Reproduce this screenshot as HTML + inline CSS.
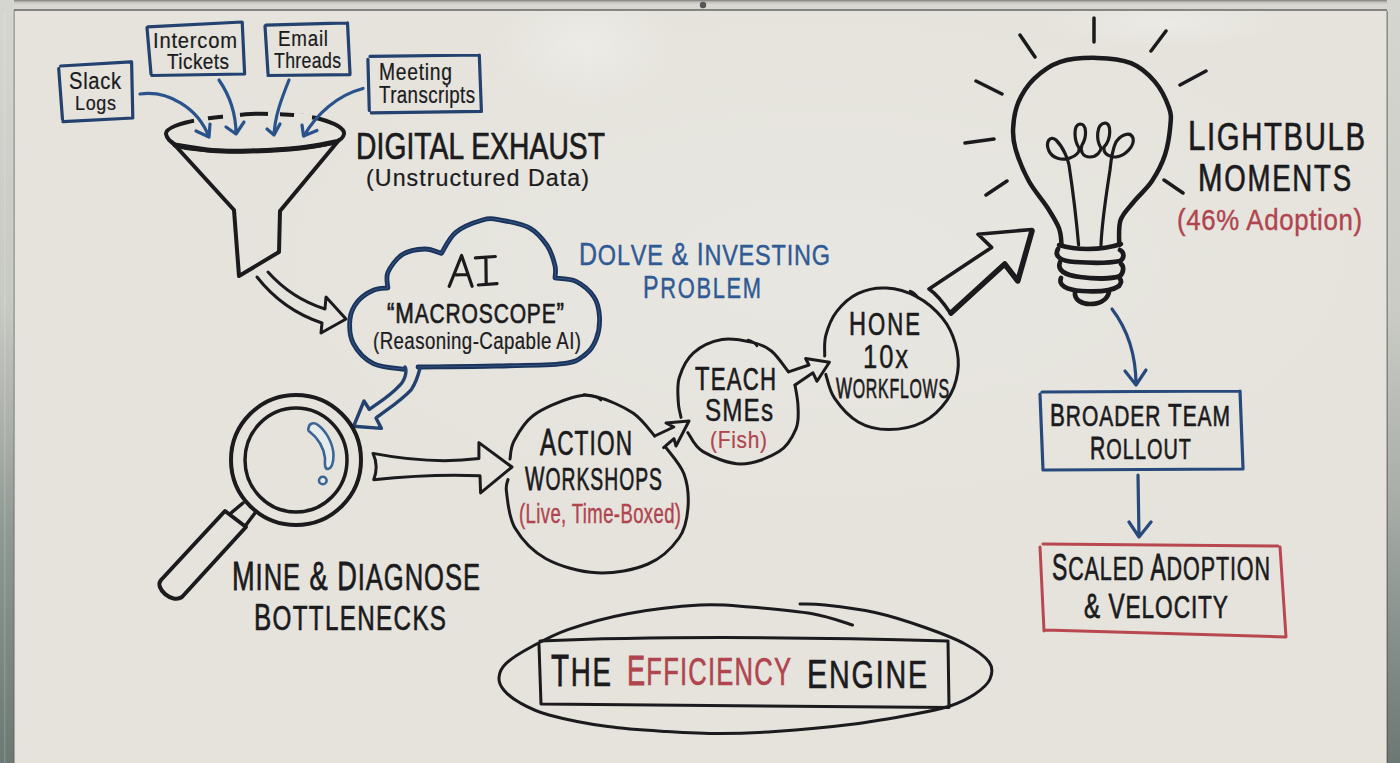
<!DOCTYPE html>
<html><head><meta charset="utf-8"><style>
html,body{margin:0;padding:0;width:1400px;height:763px;overflow:hidden;background:#dcdad3;}
svg{display:block;}
text{font-family:"Liberation Sans",sans-serif;}
</style></head><body>
<svg width="1400" height="763" viewBox="0 0 1400 763">
<defs>
<radialGradient id="hl1" cx="0.5" cy="0.5" r="0.5">
<stop offset="0" stop-color="#f0eee9" stop-opacity="0.95"/>
<stop offset="1" stop-color="#f0eee9" stop-opacity="0"/>
</radialGradient>
<radialGradient id="hl2" cx="0.5" cy="0.5" r="0.5">
<stop offset="0" stop-color="#ebe9e4" stop-opacity="0.9"/>
<stop offset="1" stop-color="#ebe9e4" stop-opacity="0"/>
</radialGradient>
<linearGradient id="lf" x1="0" y1="0" x2="0" y2="763" gradientUnits="userSpaceOnUse">
<stop offset="0" stop-color="#d6d6d1"/>
<stop offset="0.4" stop-color="#c7c9c3"/>
<stop offset="0.55" stop-color="#aeb2ac"/>
<stop offset="0.7" stop-color="#8f9893"/>
<stop offset="1" stop-color="#6c7873"/>
</linearGradient>
<linearGradient id="rf" x1="0" y1="0" x2="0" y2="763" gradientUnits="userSpaceOnUse">
<stop offset="0" stop-color="#d6d6d1"/>
<stop offset="0.4" stop-color="#cbccc6"/>
<stop offset="0.65" stop-color="#a9aea8"/>
<stop offset="0.85" stop-color="#838d89"/>
<stop offset="1" stop-color="#6c7873"/>
</linearGradient>
</defs>
<rect width="1400" height="763" fill="#e5e3dc"/>
<ellipse cx="820" cy="260" rx="620" ry="280" fill="url(#hl2)" opacity="0.6"/>
<ellipse cx="585" cy="45" rx="90" ry="60" fill="url(#hl1)" opacity="0.8"/>
<ellipse cx="1165" cy="22" rx="120" ry="26" fill="url(#hl1)" opacity="0.7"/>
<rect x="0" y="0" width="1400" height="10.5" fill="#d8d7d2"/>
<rect x="0" y="1.5" width="1400" height="2" fill="#b9b9b3" opacity="0.6"/>
<rect x="0" y="0" width="1400" height="1.5" fill="#8d8d89"/>
<rect x="0" y="9.3" width="1400" height="1.4" fill="#4a4a47" opacity="0.85"/>
<rect x="0" y="0" width="14" height="763" fill="url(#lf)"/>
<rect x="4" y="11" width="1.5" height="752" fill="#ffffff" opacity="0.15"/>
<rect x="13.6" y="10" width="1.1" height="753" fill="#4d524e" opacity="0.6"/>
<rect x="1387" y="0" width="13" height="763" fill="url(#rf)"/>
<rect x="1386.5" y="11" width="1.3" height="752" fill="#3f4441" opacity="0.6"/>
<circle cx="703" cy="5" r="3.2" fill="#555"/>

<g fill="none" stroke-linecap="round" stroke-linejoin="round">
<g stroke="#23426f" stroke-width="3.2">
<path d="M60.6,66 L130.5,61.8 M131.6,61.8 L132.8,117.5 M132.8,118 L63,121.6 M58.7,68.7 L62.5,119.5"/>
<path d="M147.9,26.8 L242.2,22 M242.2,22 L244.6,73.5 M244.6,74 L151.8,75.5 M147,27.6 L151,74"/>
<path d="M265.8,25.2 L347.5,22.9 M347.5,22.9 L350,73.5 M350,74.6 L268,75.5 M265,26 L268,73.5"/>
<path d="M370,56.4 L479.3,55 M479.3,55 L481.4,111.4 M481.4,111.4 L371.4,112.9 M367.9,59.3 L369.3,110.5"/>
</g>
<g stroke="#1b1b1d" stroke-width="4">
<path d="M166.0,134.0 C165.5,130.7 169.3,128.4 175.0,126.0 C180.7,123.6 191.0,121.2 200.0,119.5 C209.0,117.8 219.8,117.0 229.0,116.0 C238.2,115.0 246.5,114.0 255.0,113.7 C263.5,113.4 272.5,114.0 280.0,114.3 C287.5,114.6 293.3,114.7 300.0,115.5 C306.7,116.3 313.7,117.2 320.0,119.0 C326.3,120.8 334.0,123.5 338.0,126.0 C342.0,128.5 344.5,131.3 344.0,134.0 C343.5,136.7 342.3,139.7 335.0,142.0 C327.7,144.3 314.2,146.5 300.0,148.0 C285.8,149.5 264.6,150.6 250.0,151.0 C235.4,151.4 224.5,151.3 212.5,150.5 C200.5,149.7 185.8,148.8 178.0,146.0 C170.2,143.2 166.5,137.3 166.0,134.0 Z" stroke-width="4"/>
<path d="M175.0,145.0 C181.2,145.9 200.0,149.5 212.5,150.5 C225.0,151.5 235.4,151.4 250.0,151.0 C264.6,150.6 285.8,149.5 300.0,148.0 C314.2,146.5 329.2,143.0 335.0,142.0" stroke-width="5"/>
<path d="M172,142 L234,210 L239,276 L279,252 L280,211 L339,140"/>
</g>
<g stroke="#1b1b1d" stroke-width="3">
<path d="M257,277 C275,300 298,315 322,323 L321,333 L346,319 L326,297 L325,309 C303,302 284,290 268,272"/>
</g>
<path d="M194,120.5 L208,118.5 M223,116.8 L240,115.5 M268,114.6 L280,114.5 M294,115.5 L312,117.5" stroke="#e5e3dc" stroke-width="6" stroke-linecap="butt"/>
<g stroke="#2a538c" stroke-width="3.2">
<path d="M140,94 C168,90 198,108 209,137 M196,131 L209,137 L210,124"/>
<path d="M219,80 C230,96 236,115 236,134 M226,127 L236,134 L244,122"/>
<path d="M289,80 C281,100 275,116 274,135 M267,129 L274,135 L280,124"/>
<path d="M363,88.5 C338,95 316,114 304,136 M302,125 L303.5,136 L317,130.5"/>
</g>
<path d="M418.0,367.0 C431.0,366.8 471.9,366.6 496.0,366.0 C520.1,365.4 548.0,365.6 562.8,363.7 C577.6,361.8 579.4,358.9 585.0,354.8 C590.6,350.7 593.8,345.5 596.2,339.2 C598.6,332.9 599.9,324.0 599.5,317.0 C599.1,310.0 597.9,302.9 594.0,297.0 C590.1,291.1 582.5,284.5 576.0,281.3 C569.5,278.1 558.5,278.6 555.0,278.0 L555.0,278.0 C555.0,275.9 556.3,271.1 555.0,265.7 C553.7,260.3 551.5,251.9 547.2,245.6 C542.9,239.3 537.2,232.1 529.4,227.8 C521.6,223.5 508.2,221.3 500.4,220.0 C492.6,218.7 490.0,217.9 482.6,220.0 C475.2,222.1 462.7,226.7 455.8,232.3 C448.9,237.9 443.8,249.9 441.4,253.4 L441.4,253.4 C438.6,252.7 431.2,248.8 424.7,249.0 C418.2,249.2 408.5,250.7 402.4,254.6 C396.3,258.5 390.3,266.8 387.9,272.4 C385.5,278.0 387.9,285.4 387.9,288.0 L387.9,288.0 C385.5,288.4 378.4,288.0 373.4,290.2 C368.4,292.4 361.7,296.5 357.8,301.3 C353.9,306.1 350.7,311.9 350.0,319.0 C349.3,326.1 349.5,336.2 353.4,343.7 C357.3,351.1 364.9,359.4 373.4,363.7 C381.9,368.0 399.4,368.4 404.6,369.3" stroke="#19335c" stroke-width="4.8"/>
<path d="M418.0,367.0 C431.0,366.8 471.9,366.6 496.0,366.0 C520.1,365.4 548.0,365.6 562.8,363.7 C577.6,361.8 579.4,358.9 585.0,354.8 C590.6,350.7 593.8,345.5 596.2,339.2 C598.6,332.9 599.9,324.0 599.5,317.0 C599.1,310.0 597.9,302.9 594.0,297.0 C590.1,291.1 582.5,284.5 576.0,281.3 C569.5,278.1 558.5,278.6 555.0,278.0 L555.0,278.0 C555.0,275.9 556.3,271.1 555.0,265.7 C553.7,260.3 551.5,251.9 547.2,245.6 C542.9,239.3 537.2,232.1 529.4,227.8 C521.6,223.5 508.2,221.3 500.4,220.0 C492.6,218.7 490.0,217.9 482.6,220.0 C475.2,222.1 462.7,226.7 455.8,232.3 C448.9,237.9 443.8,249.9 441.4,253.4 L441.4,253.4 C438.6,252.7 431.2,248.8 424.7,249.0 C418.2,249.2 408.5,250.7 402.4,254.6 C396.3,258.5 390.3,266.8 387.9,272.4 C385.5,278.0 387.9,285.4 387.9,288.0 L387.9,288.0 C385.5,288.4 378.4,288.0 373.4,290.2 C368.4,292.4 361.7,296.5 357.8,301.3 C353.9,306.1 350.7,311.9 350.0,319.0 C349.3,326.1 349.5,336.2 353.4,343.7 C357.3,351.1 364.9,359.4 373.4,363.7 C381.9,368.0 399.4,368.4 404.6,369.3" stroke="#6a90c0" stroke-width="1.1" opacity="0.35"/>
<g stroke="#23426f" stroke-width="3.4">
<path d="M405,367 C407,370 406,380 398.7,386.4 C390,396 378,403 369.4,409.5 L364,401 L353.6,426.3 L381.4,428.4 L376,418 C388,409 402,400 411.3,389.6 C417,381 419,372 420,368"/>
</g>
<path d="M449.2,286.3 L461.6,255.5 L472.1,286.3 M455.7,274.8 L466.9,274.5 M475.4,257.8 L495.4,256.5 M485.9,257.5 L486.2,284.3 M478.3,285 L497,283.7" stroke="#1b1b1d" stroke-width="3.2"/>
<g stroke="#1b1b1d" stroke-width="4">
<ellipse cx="296" cy="460" rx="65" ry="65"/>
<ellipse cx="296" cy="460" rx="51" ry="52" stroke-width="3.5"/>
<path d="M243,503 L231,513 M255,513 L246,525" stroke-width="3.5"/>
<path d="M225,511 L161,580 C154,588 172,604 182,597 L246,527 Z"/>
</g>
<g stroke="#3d6496" stroke-width="2.6">
<path d="M308.6,428 C309,423 314,422 318,425 C326,431 333,443 333.5,455 C333.5,462 332,468 328,469 C324,469 325,463 325,458 C324,448 318,438 310,432 C308,431 308,429 308.6,428 Z" fill="#e6ebec"/>
<circle cx="322.8" cy="480.5" r="3.8" fill="#e6ebec"/>
</g>
<g stroke="#1b1b1d" stroke-width="3">
<path d="M373,453.4 Q379,466 373.7,479.7 Q430.4,473.7 480,475.7 L480.6,492.9 L512,467 L478.9,442.6 L478.9,458.6 Q431.3,464.6 373,453.4 Z"/>
</g>
<g stroke="#1b1b1d" stroke-width="3">
<path d="M666.0,447.6 C669.0,452.0 680.3,464.0 684.0,474.0 C687.7,484.0 688.8,496.9 688.0,507.6 C687.2,518.3 685.7,528.6 679.0,538.0 C672.3,547.4 661.7,558.2 648.0,564.0 C634.3,569.8 614.0,573.7 597.0,572.8 C580.0,571.9 559.7,566.2 546.0,558.7 C532.3,551.2 521.6,539.1 515.0,528.0 C508.4,516.9 507.7,500.1 506.5,492.0 C505.3,483.9 507.8,481.6 508.0,479.5"/>
<path d="M510.0,459.0 C510.7,456.0 510.2,448.2 514.0,441.0 C517.8,433.8 523.4,422.9 533.0,415.7 C542.6,408.5 560.9,400.9 571.6,397.8 C582.3,394.7 586.8,394.5 597.0,397.0 C607.2,399.5 623.4,406.5 633.0,413.0 C642.6,419.5 651.1,432.2 654.7,436.0"/>
<path d="M687.8,432.6 C690.3,435.8 694.1,446.4 703.0,451.6 C711.9,456.8 728.3,464.0 741.0,464.0 C753.7,464.0 769.8,457.5 779.0,451.6 C788.2,445.7 792.8,436.4 796.0,428.8 C799.2,421.2 798.2,413.3 798.0,406.0 C797.8,398.7 795.5,388.5 795.0,385.0"/>
<path d="M788.5,371.8 C785.6,368.3 777.4,355.9 771.4,351.0 C765.4,346.1 760.6,344.3 752.4,342.4 C744.2,340.5 731.8,337.8 722.0,339.5 C712.2,341.2 700.6,346.5 693.5,352.8 C686.4,359.1 681.8,369.3 679.3,377.5 C676.8,385.7 678.0,395.4 678.3,402.0 C678.6,408.6 680.5,414.8 681.0,417.4"/>
<path d="M825.8,374.4 C827.2,378.4 829.1,390.3 834.5,398.2 C839.9,406.1 849.2,416.8 858.2,422.0 C867.2,427.2 877.7,429.6 888.5,429.6 C899.3,429.6 913.3,426.9 923.0,422.0 C932.7,417.1 941.1,408.7 946.9,400.4 C952.7,392.1 956.3,381.7 957.7,372.3 C959.1,362.9 958.0,353.2 955.5,344.2 C953.0,335.2 949.0,326.1 942.5,318.2 C936.0,310.3 926.0,301.6 916.6,296.6 C907.2,291.6 896.0,288.5 886.3,288.0 C876.6,287.5 866.5,289.4 858.2,293.4 C849.9,297.3 842.0,304.7 836.6,311.7 C831.2,318.7 827.8,328.1 825.8,335.5 C823.8,342.9 824.9,352.6 824.7,356.0"/>
<path d="M584,394.5 C592,395 598,397 601,400" stroke-width="2.6"/>
<path d="M748,340 C752,341 755,343 757,346" stroke-width="2.4"/>
<path d="M910,291 C913,292 916,294 918,298" stroke-width="2.4"/>
<path d="M654.7,436 L673.8,427 L666,423 L689,421 L676,446 L674,438.7 L663.6,447.6"/>
<path d="M788.5,371.8 L809,365 L805.6,358.5 L829.4,362.3 L817,381.3 L813,372.8 L795,385"/>
</g>
<g stroke="#1b1b1d" stroke-width="3.6">
<path d="M929,289 L991.6,247.4 L978,234.3 L1032,229.5 L1017.8,281 L1004.7,264 L951,314 C945,305 938,295 929,289 Z"/>
<path d="M1032,231 L1017.8,281 L1004.7,264 L951,313" stroke-width="5.5"/>
</g>
<g stroke="#1b1b1d" stroke-width="4.5">
<path d="M1061.6,245.2 C1061.2,242.4 1061.4,234.5 1059.0,228.2 C1056.6,221.9 1052.2,215.1 1047.2,207.2 C1042.2,199.3 1034.0,190.6 1028.8,181.0 C1023.5,171.4 1018.3,158.3 1015.7,149.6 C1013.1,140.9 1012.7,136.5 1013.1,128.6 C1013.5,120.7 1014.8,110.7 1018.3,102.4 C1021.8,94.1 1027.0,85.6 1034.0,78.8 C1041.0,72.0 1049.8,65.3 1060.3,61.8 C1070.8,58.3 1085.2,57.7 1097.0,57.9 C1108.8,58.1 1121.4,59.2 1131.0,63.1 C1140.6,67.0 1148.3,74.0 1154.6,81.4 C1160.9,88.8 1166.4,100.3 1169.0,107.7 C1171.6,115.1 1171.0,118.2 1170.3,126.0 C1169.6,133.8 1168.0,145.6 1165.0,154.8 C1162.0,164.0 1157.2,173.1 1152.0,181.0 C1146.8,188.9 1138.8,195.4 1133.6,202.0 C1128.3,208.6 1122.9,213.1 1120.5,220.3 C1118.1,227.5 1119.4,241.0 1119.2,245.2"/>
<path d="M1020,35 L1035,57 M1094,18 L1094,42 M1166,31 L1151,51 M976,81 L1002,94 M1206,71 L1180,85 M965,143 L994,139 M986,195 L1007,181 M1164,180 L1183,193" stroke-width="3.5"/>
<path d="M1059,245 C1075,250 1100,251 1121,244"/>
<path d="M1058,249 C1054,256 1060,261 1075,262 C1090,263 1110,263 1120,261 C1125,258 1124,252 1120,250" stroke-width="4.7"/>
<path d="M1060,262 C1057,270 1064,275 1080,277 C1095,279 1112,279 1120,276 C1124,272 1124,266 1121,264" stroke-width="4.7"/>
<path d="M1061,278 C1058,285 1066,290 1082,291 C1097,292 1112,291 1119,286 C1122,282 1121,280 1120,279" stroke-width="4.7"/>
<path d="M1075,292 C1074,300 1082,304 1090,304 C1098,304 1107,301 1109,292" stroke-width="4.7"/>
</g>
<g stroke="#1b1b1d" stroke-width="3.2">
<path d="M1078.6,245 C1076,215 1072,185 1069,165 C1068,160 1064,148 1056,140 C1050,135 1045,142 1049,151 C1052,158 1062,161 1070,158 C1076,156 1080,152 1079,148 C1074,140 1073,125 1080,124 C1087,124 1087,137 1082,145 C1080,150 1082,157 1090,157 C1097,157 1101,151 1101,148 C1096,140 1096,124 1105,123 C1112,123 1111,140 1104,147 C1103,153 1108,157 1116,157 C1125,156 1135,146 1133,138 C1130,130 1120,136 1116,142 C1112,150 1111,160 1110,170 C1107,190 1102,220 1101,245"/>
</g>
<g stroke="#27497c" stroke-width="3.2">
<path d="M1112,309 C1128,330 1136,355 1136,385 M1125,371 L1136,385 L1146,370"/>
<path d="M1042,392 L1240,391 M1240,391 L1243,468 M1243,469 L1045,470 M1040,394 L1043,470"/>
<path d="M1138,475 L1139,537 M1129,522 L1139,537 L1151,522"/>
</g>
<g stroke="#b9474f" stroke-width="3">
<path d="M1043,544 L1278,546 M1280,547 L1286,637 M1285,637 L1045,630 M1040,547 L1044,631"/>
</g>
<g stroke="#1b1b1d" stroke-width="3">
<path d="M852.5,625.0 C845.8,623.1 829.6,616.8 812.5,613.8 C795.4,610.8 768.8,608.5 750.0,607.0 C731.2,605.5 720.4,603.9 700.0,605.0 C679.6,606.1 649.4,609.6 627.5,613.7 C605.6,617.8 585.0,623.7 568.6,629.4 C552.2,635.1 539.8,642.3 529.3,648.0 C518.8,653.7 510.8,658.9 505.7,663.8 C500.6,668.7 499.3,673.1 499.0,677.5 C498.7,681.9 500.4,685.8 503.8,690.0 C507.2,694.2 512.0,698.3 519.5,702.5 C527.0,706.7 534.3,711.0 549.0,715.0 C563.7,719.0 588.3,723.9 607.9,726.6 C627.5,729.4 648.1,730.4 666.8,731.5 C685.5,732.6 702.0,733.5 720.0,733.5 C738.0,733.5 753.3,733.0 775.0,731.5 C796.7,730.0 826.7,727.4 850.0,724.5 C873.3,721.6 898.3,717.1 915.0,714.0 C931.7,710.9 940.0,709.3 950.0,706.0 C960.0,702.7 968.3,698.5 975.0,694.0 C981.7,689.5 987.7,684.3 990.0,679.0 C992.3,673.7 993.2,667.8 989.0,662.0 C984.8,656.2 975.7,649.8 965.0,644.0 C954.3,638.2 940.0,632.8 925.0,627.5 C910.0,622.2 891.7,616.2 875.0,612.5 C858.3,608.8 837.5,606.4 825.0,605.0 C812.5,603.6 804.2,604.2 800.0,604.0"/>
<path d="M540,641 Q700,634 948,641 M948,641 L949,707 M949,707.5 L541,704 M539,645 L541,704"/>
</g>
</g>
<g>
<text id="t0" transform="translate(69.00,89.00) scale(0.8413,1)" font-size="23.98" fill="#1b1b1d" stroke="#1b1b1d" stroke-width="0.22" vector-effect="non-scaling-stroke" textLength="61.83" lengthAdjust="spacing">Slack</text>
<text id="t1" transform="translate(75.00,110.00) scale(0.8818,1)" font-size="20.35" fill="#1b1b1d" stroke="#1b1b1d" stroke-width="0.22" vector-effect="non-scaling-stroke" textLength="46.52" lengthAdjust="spacing">Logs</text>
<text id="t2" transform="translate(153.00,47.50) scale(0.9265,1)" font-size="21.80" fill="#1b1b1d" stroke="#1b1b1d" stroke-width="0.22" vector-effect="non-scaling-stroke" textLength="90.76" lengthAdjust="spacing">Intercom</text>
<text id="t3" transform="translate(167.00,69.00) scale(0.8747,1)" font-size="21.80" fill="#1b1b1d" stroke="#1b1b1d" stroke-width="0.22" vector-effect="non-scaling-stroke" textLength="70.89" lengthAdjust="spacing">Tickets</text>
<text id="t4" transform="translate(278.00,46.00) scale(0.8632,1)" font-size="21.80" fill="#1b1b1d" stroke="#1b1b1d" stroke-width="0.22" vector-effect="non-scaling-stroke" textLength="57.99" lengthAdjust="spacing">Email</text>
<text id="t5" transform="translate(274.00,67.50) scale(0.8124,1)" font-size="21.80" fill="#1b1b1d" stroke="#1b1b1d" stroke-width="0.22" vector-effect="non-scaling-stroke" textLength="82.47" lengthAdjust="spacing">Threads</text>
<text id="t6" transform="translate(379.00,80.00) scale(0.8308,1)" font-size="23.26" fill="#1b1b1d" stroke="#1b1b1d" stroke-width="0.22" vector-effect="non-scaling-stroke" textLength="87.94" lengthAdjust="spacing">Meeting</text>
<text id="t7" transform="translate(379.00,102.50) scale(0.7823,1)" font-size="23.98" fill="#1b1b1d" stroke="#1b1b1d" stroke-width="0.22" vector-effect="non-scaling-stroke" textLength="122.74" lengthAdjust="spacing">Transcripts</text>
<text id="t8" transform="translate(356.00,159.00) scale(0.7766,1)" font-size="36.34" fill="#1b1b1d" stroke="#1b1b1d" stroke-width="0.65" vector-effect="non-scaling-stroke" textLength="320.65" lengthAdjust="spacing">DIGITAL EXHAUST</text>
<text id="t9" transform="translate(366.00,186.00) scale(1.0000,1)" font-size="23.26" fill="#1b1b1d" stroke="#1b1b1d" stroke-width="0.22" vector-effect="non-scaling-stroke" textLength="223.04" lengthAdjust="spacing">(Unstructured Data)</text>
<text id="t11" transform="translate(387.00,322.50) scale(0.7687,1)" font-size="29.07" fill="#1b1b1d" stroke="#1b1b1d" stroke-width="0.65" vector-effect="non-scaling-stroke" textLength="230.26" lengthAdjust="spacing">“M<tspan font-size="27.33">A</tspan><tspan font-size="27.33">C</tspan><tspan font-size="27.33">R</tspan><tspan font-size="27.33">O</tspan><tspan font-size="27.33">S</tspan><tspan font-size="27.33">C</tspan><tspan font-size="27.33">O</tspan><tspan font-size="27.33">P</tspan><tspan font-size="27.33">E</tspan>”</text>
<text id="t12" transform="translate(373.00,349.00) scale(0.8035,1)" font-size="23.26" fill="#1b1b1d" stroke="#1b1b1d" stroke-width="0.22" vector-effect="non-scaling-stroke" textLength="258.91" lengthAdjust="spacing">(Reasoning-Capable AI)</text>
<text id="t13" transform="translate(579.00,265.00) scale(0.7806,1)" font-size="31.98" fill="#2f5a94" stroke="#2f5a94" stroke-width="0.45" vector-effect="non-scaling-stroke" textLength="321.58" lengthAdjust="spacing">D<tspan font-size="30.06">O</tspan><tspan font-size="30.06">L</tspan><tspan font-size="30.06">V</tspan><tspan font-size="30.06">E</tspan> &amp; I<tspan font-size="30.06">N</tspan><tspan font-size="30.06">V</tspan><tspan font-size="30.06">E</tspan><tspan font-size="30.06">S</tspan><tspan font-size="30.06">T</tspan><tspan font-size="30.06">I</tspan><tspan font-size="30.06">N</tspan><tspan font-size="30.06">G</tspan></text>
<text id="t14" transform="translate(643.00,297.50) scale(0.7446,1)" font-size="31.25" fill="#2f5a94" stroke="#2f5a94" stroke-width="0.45" vector-effect="non-scaling-stroke" textLength="158.60" lengthAdjust="spacing">P<tspan font-size="29.38">R</tspan><tspan font-size="29.38">O</tspan><tspan font-size="29.38">B</tspan><tspan font-size="29.38">L</tspan><tspan font-size="29.38">E</tspan><tspan font-size="29.38">M</tspan></text>
<text id="t15" transform="translate(1188.00,150.00) scale(0.7420,1)" font-size="42.15" fill="#1b1b1d" stroke="#1b1b1d" stroke-width="0.65" vector-effect="non-scaling-stroke" textLength="238.61" lengthAdjust="spacing">L<tspan font-size="39.62">I</tspan><tspan font-size="39.62">G</tspan><tspan font-size="39.62">H</tspan><tspan font-size="39.62">T</tspan><tspan font-size="39.62">B</tspan><tspan font-size="39.62">U</tspan><tspan font-size="39.62">L</tspan><tspan font-size="39.62">B</tspan></text>
<text id="t16" transform="translate(1198.00,191.00) scale(0.7489,1)" font-size="39.24" fill="#1b1b1d" stroke="#1b1b1d" stroke-width="0.65" vector-effect="non-scaling-stroke" textLength="204.40" lengthAdjust="spacing">M<tspan font-size="36.89">O</tspan><tspan font-size="36.89">M</tspan><tspan font-size="36.89">E</tspan><tspan font-size="36.89">N</tspan><tspan font-size="36.89">T</tspan><tspan font-size="36.89">S</tspan></text>
<text id="t17" transform="translate(1177.00,229.50) scale(0.8662,1)" font-size="29.80" fill="#b0454f" stroke="#b0454f" stroke-width="0.4" vector-effect="non-scaling-stroke" textLength="213.61" lengthAdjust="spacing">(46% Adoption)</text>
<text id="t18" transform="translate(695.00,390.00) scale(0.7220,1)" font-size="32.70" fill="#1b1b1d" stroke="#1b1b1d" stroke-width="0.65" vector-effect="non-scaling-stroke" textLength="112.20" lengthAdjust="spacing">T<tspan font-size="30.74">E</tspan><tspan font-size="30.74">A</tspan><tspan font-size="30.74">C</tspan><tspan font-size="30.74">H</tspan></text>
<text id="t19" transform="translate(705.00,421.00) scale(0.7934,1)" font-size="30.52" fill="#1b1b1d" stroke="#1b1b1d" stroke-width="0.4" vector-effect="non-scaling-stroke" textLength="85.74" lengthAdjust="spacing">SMEs</text>
<text id="t20" transform="translate(710.00,447.50) scale(0.8703,1)" font-size="23.98" fill="#b0454f" stroke="#b0454f" stroke-width="0.22" vector-effect="non-scaling-stroke" textLength="65.58" lengthAdjust="spacing">(Fish)</text>
<text id="t21" transform="translate(849.00,335.00) scale(0.7196,1)" font-size="32.70" fill="#1b1b1d" stroke="#1b1b1d" stroke-width="0.65" vector-effect="non-scaling-stroke" textLength="98.82" lengthAdjust="spacing">H<tspan font-size="30.74">O</tspan><tspan font-size="30.74">N</tspan><tspan font-size="30.74">E</tspan></text>
<text id="t22" transform="translate(863.00,367.50) scale(0.7823,1)" font-size="32.70" fill="#1b1b1d" stroke="#1b1b1d" stroke-width="0.4" vector-effect="non-scaling-stroke" textLength="57.64" lengthAdjust="spacing">10x</text>
<text id="t23" transform="translate(836.00,397.50) scale(0.5825,1)" font-size="29.07" fill="#1b1b1d" stroke="#1b1b1d" stroke-width="0.65" vector-effect="non-scaling-stroke" textLength="194.00" lengthAdjust="spacing">W<tspan font-size="27.33">O</tspan><tspan font-size="27.33">R</tspan><tspan font-size="27.33">K</tspan><tspan font-size="27.33">F</tspan><tspan font-size="27.33">L</tspan><tspan font-size="27.33">O</tspan><tspan font-size="27.33">W</tspan><tspan font-size="27.33">S</tspan></text>
<text id="t24" transform="translate(540.00,455.00) scale(0.6637,1)" font-size="36.34" fill="#1b1b1d" stroke="#1b1b1d" stroke-width="0.65" vector-effect="non-scaling-stroke" textLength="138.62" lengthAdjust="spacing">A<tspan font-size="34.16">C</tspan><tspan font-size="34.16">T</tspan><tspan font-size="34.16">I</tspan><tspan font-size="34.16">O</tspan><tspan font-size="34.16">N</tspan></text>
<text id="t25" transform="translate(525.00,490.00) scale(0.6290,1)" font-size="32.70" fill="#1b1b1d" stroke="#1b1b1d" stroke-width="0.65" vector-effect="non-scaling-stroke" textLength="217.80" lengthAdjust="spacing">W<tspan font-size="30.74">O</tspan><tspan font-size="30.74">R</tspan><tspan font-size="30.74">K</tspan><tspan font-size="30.74">S</tspan><tspan font-size="30.74">H</tspan><tspan font-size="30.74">O</tspan><tspan font-size="30.74">P</tspan><tspan font-size="30.74">S</tspan></text>
<text id="t26" transform="translate(519.00,522.50) scale(0.6535,1)" font-size="28.34" fill="#b0454f" stroke="#b0454f" stroke-width="0.4" vector-effect="non-scaling-stroke" textLength="247.94" lengthAdjust="spacing">(Live, Time-Boxed)</text>
<text id="t27" transform="translate(232.00,590.00) scale(0.6804,1)" font-size="39.97" fill="#1b1b1d" stroke="#1b1b1d" stroke-width="0.65" vector-effect="non-scaling-stroke" textLength="364.55" lengthAdjust="spacing">M<tspan font-size="37.57">I</tspan><tspan font-size="37.57">N</tspan><tspan font-size="37.57">E</tspan> &amp; D<tspan font-size="37.57">I</tspan><tspan font-size="37.57">A</tspan><tspan font-size="37.57">G</tspan><tspan font-size="37.57">N</tspan><tspan font-size="37.57">O</tspan><tspan font-size="37.57">S</tspan><tspan font-size="37.57">E</tspan></text>
<text id="t28" transform="translate(254.00,630.00) scale(0.7097,1)" font-size="36.34" fill="#1b1b1d" stroke="#1b1b1d" stroke-width="0.65" vector-effect="non-scaling-stroke" textLength="270.58" lengthAdjust="spacing">B<tspan font-size="34.16">O</tspan><tspan font-size="34.16">T</tspan><tspan font-size="34.16">T</tspan><tspan font-size="34.16">L</tspan><tspan font-size="34.16">E</tspan><tspan font-size="34.16">N</tspan><tspan font-size="34.16">E</tspan><tspan font-size="34.16">C</tspan><tspan font-size="34.16">K</tspan><tspan font-size="34.16">S</tspan></text>
<text id="t29" transform="translate(551.00,686.00) scale(0.6766,1)" font-size="43.60" fill="#1b1b1d" stroke="#1b1b1d" stroke-width="0.65" vector-effect="non-scaling-stroke" textLength="88.70" lengthAdjust="spacing">T<tspan font-size="40.99">H</tspan><tspan font-size="40.99">E</tspan></text>
<text id="t30" transform="translate(627.00,685.00) scale(0.6457,1)" font-size="42.15" fill="#b0454f" stroke="#b0454f" stroke-width="0.65" vector-effect="non-scaling-stroke" textLength="254.04" lengthAdjust="spacing">E<tspan font-size="39.62">F</tspan><tspan font-size="39.62">F</tspan><tspan font-size="39.62">I</tspan><tspan font-size="39.62">C</tspan><tspan font-size="39.62">I</tspan><tspan font-size="39.62">E</tspan><tspan font-size="39.62">N</tspan><tspan font-size="39.62">C</tspan><tspan font-size="39.62">Y</tspan></text>
<text id="t31" transform="translate(807.00,687.50) scale(0.7372,1)" font-size="41.42" fill="#1b1b1d" stroke="#1b1b1d" stroke-width="0.65" vector-effect="non-scaling-stroke" textLength="162.85" lengthAdjust="spacing">E<tspan font-size="38.94">N</tspan><tspan font-size="38.94">G</tspan><tspan font-size="38.94">I</tspan><tspan font-size="38.94">N</tspan><tspan font-size="38.94">E</tspan></text>
<text id="t32" transform="translate(1050.00,426.00) scale(0.7310,1)" font-size="30.52" fill="#1b1b1d" stroke="#1b1b1d" stroke-width="0.65" vector-effect="non-scaling-stroke" textLength="246.27" lengthAdjust="spacing">B<tspan font-size="28.69">R</tspan><tspan font-size="28.69">O</tspan><tspan font-size="28.69">A</tspan><tspan font-size="28.69">D</tspan><tspan font-size="28.69">E</tspan><tspan font-size="28.69">R</tspan> T<tspan font-size="28.69">E</tspan><tspan font-size="28.69">A</tspan><tspan font-size="28.69">M</tspan></text>
<text id="t33" transform="translate(1090.00,459.00) scale(0.6766,1)" font-size="31.25" fill="#1b1b1d" stroke="#1b1b1d" stroke-width="0.65" vector-effect="non-scaling-stroke" textLength="149.29" lengthAdjust="spacing">R<tspan font-size="29.38">O</tspan><tspan font-size="29.38">L</tspan><tspan font-size="29.38">L</tspan><tspan font-size="29.38">O</tspan><tspan font-size="29.38">U</tspan><tspan font-size="29.38">T</tspan></text>
<text id="t34" transform="translate(1052.00,580.00) scale(0.6314,1)" font-size="36.34" fill="#1b1b1d" stroke="#1b1b1d" stroke-width="0.65" vector-effect="non-scaling-stroke" textLength="345.30" lengthAdjust="spacing">S<tspan font-size="34.16">C</tspan><tspan font-size="34.16">A</tspan><tspan font-size="34.16">L</tspan><tspan font-size="34.16">E</tspan><tspan font-size="34.16">D</tspan> A<tspan font-size="34.16">D</tspan><tspan font-size="34.16">O</tspan><tspan font-size="34.16">P</tspan><tspan font-size="34.16">T</tspan><tspan font-size="34.16">I</tspan><tspan font-size="34.16">O</tspan><tspan font-size="34.16">N</tspan></text>
<text id="t35" transform="translate(1084.00,617.50) scale(0.7072,1)" font-size="34.16" fill="#1b1b1d" stroke="#1b1b1d" stroke-width="0.65" vector-effect="non-scaling-stroke" textLength="203.65" lengthAdjust="spacing">&amp; V<tspan font-size="32.11">E</tspan><tspan font-size="32.11">L</tspan><tspan font-size="32.11">O</tspan><tspan font-size="32.11">C</tspan><tspan font-size="32.11">I</tspan><tspan font-size="32.11">T</tspan><tspan font-size="32.11">Y</tspan></text>
</g>
</svg>
</body></html>
